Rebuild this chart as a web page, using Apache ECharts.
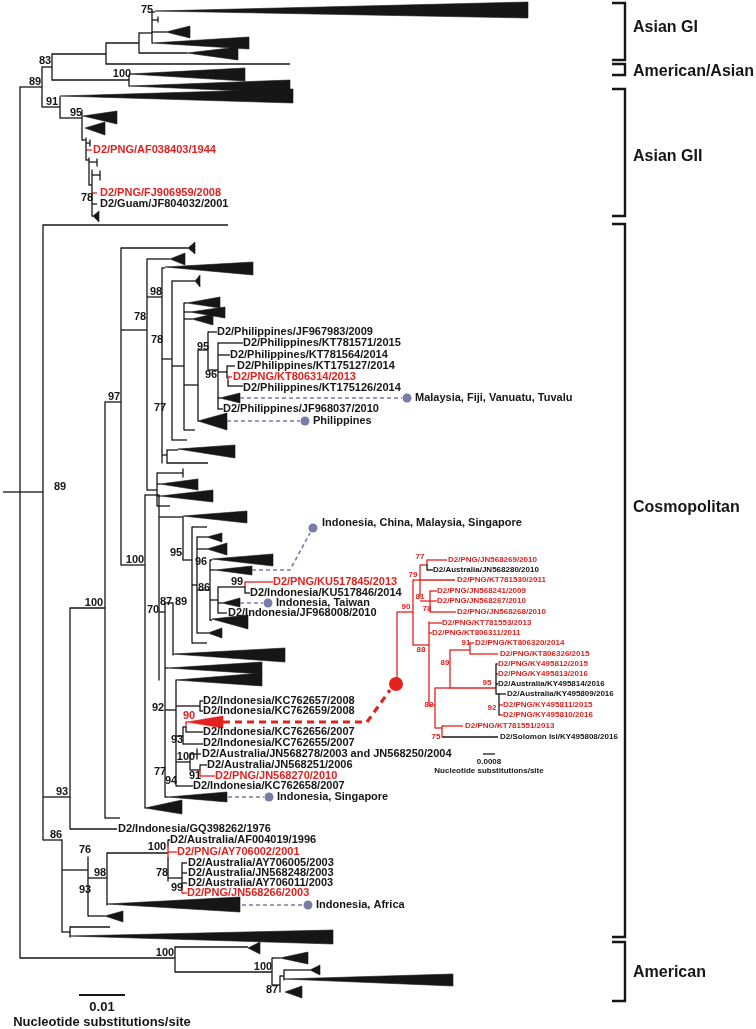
<!DOCTYPE html>
<html><head><meta charset="utf-8">
<script src="https://cdn.jsdelivr.net/npm/echarts@6/dist/echarts.min.js"></script>
<style>html,body{margin:0;padding:0;background:#fff}#c{width:756px;height:1029px}</style>
</head><body><div id="c"></div>
<script>
// Tree layout values: x = cumulative branch length (layout units, 46 units = 0.01 subst/site), y = leaf row position
// Horizontal branches: [xStart, xEnd, y, group]
const hBranches = [
[3,20,492],[20,42,87],[42,52,67],[52,106,54],[106,139,43],[139,152,33],[152,155,12],[152,158,20],[152,166,32],
[139,187,53],[106,290,64],[52,129,80],[42,60,107],[60,82,118],[82,86,140],[86,90,143],[86,92,150,'PNG'],[86,89,160],
[89,97,162],[89,92,185],[92,100,175],[92,97,193,'PNG'],[92,97,204],[92,93,216],
[20,43,492],[43,228,225],[43,70,797],[70,105,608],[70,117,829],[43,62,840],[105,121,402],
[121,188,248],[121,147,330],[147,170,259],[147,162,297],[162,165,268],[162,172,359],[172,195,281],[172,184,366],[172,187,440],
[184,187,303],[184,190,312],[184,192,319],[184,198,385],[184,195,430],[198,208,350],[208,217,332],[208,218,370],
[218,243,343],[218,230,355],[218,227,372],[227,235,366],[227,228,378],[228,232,377,'PNG'],[228,243,386],[218,220,398],[218,223,409],
[162,167,455],[167,178,450],[167,208,463],[147,157,490],[157,183,473],[157,160,484],[157,160,496],[157,170,506],
[121,145,565],[145,159,495],[159,183,517],[183,192,560],[192,207,527],[192,197,585],[197,207,537],[197,207,549],[197,210,590],
[197,208,633],[210,212,560],[210,215,570],[210,218,600],[210,212,620],[218,245,587],[245,273,582,'PNG'],[245,250,593],
[218,222,603],[218,227,613],[192,207,643],[159,165,612],[165,173,603],
[165,168,668],[165,176,710],[176,200,706],[200,203,701],[200,203,711],[176,183,736],[183,186,727],[186,187,722,'PNG'],
[186,203,732],[183,203,744],[176,190,762],[190,197,754],[197,201,754],[190,200,770],[200,207,765],[200,215,776,'PNG'],
[176,193,786],[165,168,797],[105,120,818],
[62,88,870],[88,107,878],[107,168,853],[168,170,840],[168,177,852,'PNG'],[168,182,878],[182,187,863],[182,187,873],
[182,187,883],[182,187,893,'PNG'],[88,105,916],[62,70,932],[70,110,927],
[20,175,958],[175,248,947],[175,272,972],[272,280,958],[272,280,985],[280,284,976],[284,310,970],
// inset (PNG sub-lineage)
[397,413,612,'PNG'],[413,420,580,'PNG'],[420,427,565,'PNG'],[427,447,560,'PNG'],[427,433,570],[420,455,580,'PNG'],
[420,430,601,'PNG'],[430,437,591,'PNG'],[430,437,601,'PNG'],[430,456,612,'PNG'],[413,429,645,'PNG'],[429,442,623,'PNG'],
[429,432,633,'PNG'],[429,435,705,'PNG'],[435,450,688,'PNG'],[450,470,650,'PNG'],[470,474,643,'PNG'],[470,498,654,'PNG'],
[450,496,688,'PNG'],[496,498,664,'PNG'],[496,498,674,'PNG'],[496,498,684],[496,499,694],[499,506,694],[499,503,705,'PNG'],
[499,503,715,'PNG'],[435,442,728,'PNG'],[442,463,726,'PNG'],[442,498,737]
];
// Vertical connectors: [x, yTop, yBottom, group]
const vBranches = [
[20,87,958],[42,67,107],[52,54,80],[106,43,64],[139,33,53],[152,12,43],[158,17,22],[129,75,86],[60,97,118],[82,110,140],
[86,138,160],[90,140,146],[89,158,185],[97,159,166],[92,170,216],[100,171,180],
[43,225,840],[70,608,829],[105,402,818],[121,248,565],[147,259,490],[162,268,463],[172,281,440],[184,303,430],[198,350,421],
[208,332,370],[218,343,409],[227,366,378],[228,376,381,'PNG'],[228,381,386],[167,450,463],[157,473,506],[183,469,477],
[145,495,808],[159,495,680],[183,517,560],[192,527,643],[197,537,633],[210,560,620],[218,587,613],[245,582,587,'PNG'],[245,587,593],
[165,603,797],[173,603,655],[176,680,786],[200,701,711],[183,727,744],[186,722,727,'PNG'],[186,727,732],[190,754,770],
[197,749,759],[200,765,770],[200,770,776,'PNG'],
[62,840,932],[88,857,916],[107,853,905],[168,840,846],[168,846,858,'PNG'],[168,858,881],[182,863,887],[182,887,893,'PNG'],[70,927,937],
[175,947,972],[272,958,985],[280,976,992],[284,970,980],
[413,580,645,'PNG'],[397,612,680,'PNG'],[420,565,597,'PNG'],[427,560,565,'PNG'],[427,565,570],[430,591,612,'PNG'],[429,622,705,'PNG'],
[435,688,728,'PNG'],[450,650,688,'PNG'],[470,643,654,'PNG'],[496,664,694],[499,694,715],[442,726,737,'PNG']
];
// Collapsed clades (triangles): [xApex, yApex, xEnd, yEndTop, yEndBottom, group]
const clades = [
[155,11,528,2,18],[166,32,190,26,38],[152,43,249,37,49],[187,53,238,47,60],[129,74,245,68,81],[129,86,290,80,93],
[60,96,293,89,103],[83,116,117,111,124],[85,128,105,122,135],[93,216,99,211,222],
[188,248,195,242,254],[170,259,185,253,265],[165,267,253,262,275],[195,281,200,275,287],[187,303,220,297,308],
[190,312,225,307,318],[192,319,213,314,325],[220,398,240,393,403],[198,421,227,413,430],[178,449,235,445,458],
[160,484,198,479,490],[160,496,213,490,502],[183,516,247,511,523],[207,537,222,533,542],[207,549,227,543,555],
[212,559,273,554,566],[215,570,252,566,575],[222,603,240,598,607],[212,619,248,615,629],[208,633,222,628,638],
[173,654,285,648,662],[168,668,262,662,674],[176,680,262,673,686],[187,722,223,716,728,'PNG'],[168,797,227,792,802],
[145,808,182,800,814],[107,904,240,897,912],[105,916,123,911,922],[70,936,333,930,944],
[248,948,260,942,954],[280,958,308,952,964],[310,970,320,965,975],[284,979,453,974,986],[285,992,302,986,998]
];
// Taxon labels: [x, y, name, group]
const tips = [
[93,150,'D2/PNG/AF038403/1944','PNG'],[100,193,'D2/PNG/FJ906959/2008','PNG'],[100,204,'D2/Guam/JF804032/2001'],
[217,332,'D2/Philippines/JF967983/2009'],[243,343,'D2/Philippines/KT781571/2015'],[230,355,'D2/Philippines/KT781564/2014'],
[237,366,'D2/Philippines/KT175127/2014'],[233,377,'D2/PNG/KT806314/2013','PNG'],[243,388,'D2/Philippines/KT175126/2014'],
[223,409,'D2/Philippines/JF968037/2010'],[273,582,'D2/PNG/KU517845/2013','PNG'],[250,593,'D2/Indonesia/KU517846/2014'],
[228,613,'D2/Indonesia/JF968008/2010'],[203,701,'D2/Indonesia/KC762657/2008'],[203,711,'D2/Indonesia/KC762659/2008'],
[203,732,'D2/Indonesia/KC762656/2007'],[203,743,'D2/Indonesia/KC762655/2007'],
[202,754,'D2/Australia/JN568278/2003 and JN568250/2004'],[207,765,'D2/Australia/JN568251/2006'],
[215,776,'D2/PNG/JN568270/2010','PNG'],[193,786,'D2/Indonesia/KC762658/2007'],[118,829,'D2/Indonesia/GQ398262/1976'],
[170,840,'D2/Australia/AF004019/1996'],[177,852,'D2/PNG/AY706002/2001','PNG'],[188,863,'D2/Australia/AY706005/2003'],
[188,873,'D2/Australia/JN568248/2003'],[188,883,'D2/Australia/AY706011/2003'],[187,893,'D2/PNG/JN568266/2003','PNG']
];
const insetTips = [
[448,560,'D2/PNG/JN568269/2010','PNG'],[433,570,'D2/Australia/JN568280/2010'],[457,580,'D2/PNG/KT781530/2011','PNG'],
[437,591,'D2/PNG/JN568241/2009','PNG'],[437,601,'D2/PNG/JN568267/2010','PNG'],[457,612,'D2/PNG/JN568268/2010','PNG'],
[442,623,'D2/PNG/KT781553/2013','PNG'],[432,633,'D2/PNG/KT806311/2011','PNG'],[475,643,'D2/PNG/KT806320/2014','PNG'],
[500,654,'D2/PNG/KT806326/2015','PNG'],[498,664,'D2/PNG/KY495812/2015','PNG'],[498,674,'D2/PNG/KY495813/2016','PNG'],
[498,684,'D2/Australia/KY495814/2016'],[507,694,'D2/Australia/KY495809/2016'],[503,705,'D2/PNG/KY495811/2015','PNG'],
[503,715,'D2/PNG/KY495810/2016','PNG'],[465,726,'D2/PNG/KT781551/2013','PNG'],[500,737,'D2/Solomon Isl/KY495808/2016']
];
// Bootstrap support values: [x, y, value, group]
const support = [
[147,10,'75'],[45,61,'83'],[35,82,'89'],[122,74,'100'],[52,102,'91'],[76,113,'95'],[87,198,'78'],
[60,487,'89'],[114,397,'97'],[140,317,'78'],[156,292,'98'],[157,340,'78'],[160,408,'77'],[203,347,'95'],[211,375,'96'],
[135,560,'100'],[94,603,'100'],[176,553,'95'],[201,562,'96'],[204,588,'86'],[237,582,'99'],[153,610,'70'],[166,602,'87'],
[181,602,'89'],[158,708,'92'],[189,716,'90','PNG'],[177,740,'93'],[186,757,'100'],[195,776,'91'],[160,772,'77'],[171,781,'94'],
[62,792,'93'],[56,835,'86'],[85,850,'76'],[157,847,'100'],[162,873,'78'],[100,873,'98'],[177,888,'99'],[85,890,'93'],
[165,953,'100'],[263,967,'100'],[272,990,'87']
];
const insetSupport = [
[420,557,'77'],[413,575,'79'],[420,597,'81'],[427,609,'78'],[406,607,'90'],[421,650,'88'],[466,643,'91'],[445,663,'89'],
[487,683,'95'],[429,705,'82'],[492,708,'92'],[436,737,'75']
];
// Geographic annotations: [points..., dot, label]
const annotLinks = [
{pts:[[240,398],[402,398]], dot:[407,398], label:'Malaysia, Fiji, Vanuatu, Tuvalu'},
{pts:[[227,421],[300,421]], dot:[305,421], label:'Philippines'},
{pts:[[252,570],[290,570],[310,533]], dot:[313,528], label:'Indonesia, China, Malaysia, Singapore', lx:322, ly:523},
{pts:[[240,603],[263,603]], dot:[268,603], label:'Indonesia, Taiwan'},
{pts:[[228,797],[264,797]], dot:[269,797], label:'Indonesia, Singapore'},
{pts:[[242,905],[303,905]], dot:[308,905], label:'Indonesia, Africa'}
];
const insetLink = {pts:[[223,722],[367,722],[390,690]], dot:[396,684]};
// Genotype brackets: [label, yTop, yBottom, yLabel]
const genotypes = [
['Asian GI',3,60,28],['American/Asian',64,75,72],['Asian GII',89,216,157],['Cosmopolitan',224,937,508],['American',942,1001,973]
];
// Scale bars: [xStart, length, y, tick label, caption]
const scaleBars = [
[79,46,995,'0.01','Nucleotide substitutions/site',13],
[483,12,754,'0.0008','Nucleotide substitutions/site',8]
];

const FONT = '"Liberation Sans", Arial, Helvetica, sans-serif';
const RED = '#e3211f', INK = '#161616', SLATE = '#787ca6';
const col = g => g === 'PNG' ? RED : INK;
const idx = arr => arr.map((_, i) => [i, i]);

function txt(p, s, color, size, align) {
  return {type:'text', x:p[0], y:p[1], style:{text:s, fill:color, font:'bold '+size+'px '+FONT,
    textAlign:align||'left', textVerticalAlign:'middle', align:align||'left', verticalAlign:'middle'}};
}

const chart = echarts.init(document.getElementById('c'), null, {renderer:'canvas'});
const series = [];
series.push({type:'custom', data:idx(clades), silent:true, animation:false, clip:false,
  renderItem:(params, api) => {
    const d = clades[params.dataIndex];
    const a = api.coord([d[0], d[1]]), t = api.coord([d[2], d[3]]), b = api.coord([d[2], d[4]]);
    return {type:'polygon', shape:{points:[a, t, b]}, style:{fill:col(d[5]), stroke:col(d[5]), lineWidth:0.6}};
  }});
series.push({type:'custom', data:idx(hBranches), silent:true, animation:false, clip:false,
  renderItem:(params, api) => {
    const d = hBranches[params.dataIndex];
    const a = api.coord([d[0], d[2]]), b = api.coord([d[1], d[2]]);
    return {type:'line', shape:{x1:a[0], y1:a[1], x2:b[0], y2:b[1]}, style:{stroke:col(d[3]), lineWidth:1.3}};
  }});
series.push({type:'custom', data:idx(vBranches), silent:true, animation:false, clip:false,
  renderItem:(params, api) => {
    const d = vBranches[params.dataIndex];
    const a = api.coord([d[0], d[1]]), b = api.coord([d[0], d[2]]);
    return {type:'line', shape:{x1:a[0], y1:a[1]-0.6, x2:b[0], y2:b[1]+0.6}, style:{stroke:col(d[3]), lineWidth:1.3}};
  }});
series.push({type:'custom', data:idx(annotLinks), silent:true, animation:false, clip:false,
  renderItem:(params, api) => {
    const d = annotLinks[params.dataIndex];
    const pts = d.pts.map(p => api.coord(p));
    const dot = api.coord(d.dot);
    const lp = api.coord([d.lx !== undefined ? d.lx : d.dot[0] + 8, d.ly !== undefined ? d.ly : d.dot[1]]);
    return {type:'group', children:[
      {type:'polyline', shape:{points:pts}, style:{stroke:SLATE, lineWidth:1.6, lineDash:[4,3], fill:null}},
      {type:'circle', shape:{cx:dot[0], cy:dot[1], r:4.5}, style:{fill:SLATE}},
      txt(lp, d.label, INK, 11)
    ]};
  }});
series.push({type:'custom', data:[[0,0]], silent:true, animation:false, clip:false,
  renderItem:(params, api) => {
    const pts = insetLink.pts.map(p => api.coord(p));
    const dot = api.coord(insetLink.dot);
    return {type:'group', children:[
      {type:'polyline', shape:{points:pts}, style:{stroke:RED, lineWidth:3.2, lineDash:[7,5], fill:null}},
      {type:'circle', shape:{cx:dot[0], cy:dot[1], r:7}, style:{fill:RED}}
    ]};
  }});
[[tips, 11, 'left'], [insetTips, 8, 'left'], [support, 11, 'center'], [insetSupport, 8, 'center']].forEach(([arr, size, align]) => {
  series.push({type:'custom', data:idx(arr), silent:true, animation:false, clip:false,
    renderItem:(params, api) => {
      const d = arr[params.dataIndex];
      const useRed = (arr === insetSupport) ? true : d[3] === 'PNG';
      return txt(api.coord([d[0], d[1]]), d[2], useRed ? RED : INK, size, align);
    }});
});
series.push({type:'custom', data:idx(genotypes), silent:true, animation:false, clip:false,
  renderItem:(params, api) => {
    const d = genotypes[params.dataIndex];
    const t0 = api.coord([612, d[1]]), t1 = api.coord([625, d[1]]), b1 = api.coord([625, d[2]]), b0 = api.coord([612, d[2]]);
    const lp = api.coord([633, d[3]]);
    return {type:'group', children:[
      {type:'polyline', shape:{points:[t0, t1, b1, b0]}, style:{stroke:INK, lineWidth:2.4, fill:null}},
      txt(lp, d[0], INK, 16)
    ]};
  }});
series.push({type:'custom', data:idx(scaleBars), silent:true, animation:false, clip:false,
  renderItem:(params, api) => {
    const d = scaleBars[params.dataIndex];
    const a = api.coord([d[0], d[2]]), b = api.coord([d[0] + d[1], d[2]]);
    const fs = d[5];
    const mid = (a[0] + b[0]) / 2;
    return {type:'group', children:[
      {type:'line', shape:{x1:a[0], y1:a[1], x2:b[0], y2:b[1]}, style:{stroke:INK, lineWidth: fs > 10 ? 1.8 : 1.3}},
      txt([mid, a[1] + fs * 0.95], d[3], INK, fs, 'center'),
      txt([mid, a[1] + fs * 2.1], d[4], INK, fs, 'center')
    ]};
  }});

chart.setOption({
  animation:false,
  backgroundColor:'#ffffff',
  grid:{left:0, right:0, top:0, bottom:0},
  xAxis:{type:'value', min:0, max:756, show:false},
  yAxis:{type:'value', min:0, max:1029, inverse:true, show:false},
  series
});
</script></body></html>
